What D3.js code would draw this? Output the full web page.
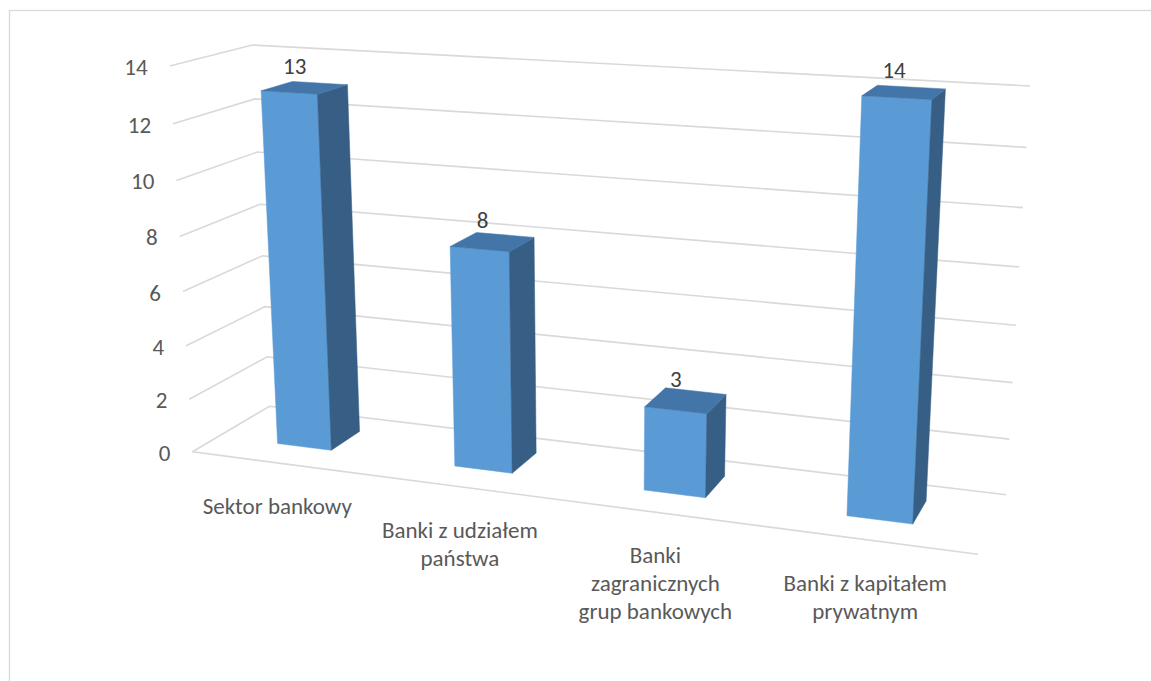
<!DOCTYPE html>
<html>
<head>
<meta charset="utf-8">
<script src="https://cdn.jsdelivr.net/npm/d3@7"></script>
<style>
  html, body { margin: 0; padding: 0; background: #fff; }
  svg { display: block; }
  text { font-family: Carlito, Lato, "Open Sans", sans-serif; }
</style>
</head>
<body>
<svg id="chart" width="1151" height="681"></svg>
<script>
// ---------------- DATA ----------------
const categories = ["Sektor bankowy", "Banki z udziałem państwa", "Banki zagranicznych grup bankowych", "Banki z kapitałem prywatnym"];
const categoryLines = [["Sektor bankowy"], ["Banki z udziałem", "państwa"], ["Banki", "zagranicznych", "grup bankowych"], ["Banki z kapitałem", "prywatnym"]];
const values = [13, 8, 3, 14];
const yTicks = [0, 2, 4, 6, 8, 10, 12, 14];
const yMax = 14;

// ---------------- LAYOUT ----------------
const svg = d3.select("#chart");

// camera anchors: world box corners (x 0..1, y 0..1, z 0..1 front->back) -> screen
const anchors = [
  [[0, 1, 0], [170, 66]],
  [[0, 1, 1], [252, 45]],
  [[0, 0, 0], [192, 452]],
  [[0, 0, 1], [270, 406]],
  [[1, 1, 1], [1030, 86]],
  [[1, 0, 1], [1006, 495]],
  [[1, 0, 0], [978, 554]]
];

// Fit a 3x4 perspective camera matrix (DLT, p34 = 1) by least squares
function fitCamera(pts) {
  const A = [], b = [];
  pts.forEach(([[X, Y, Z], [u, v]]) => {
    A.push([X, Y, Z, 1, 0, 0, 0, 0, -u * X, -u * Y, -u * Z]); b.push(u);
    A.push([0, 0, 0, 0, X, Y, Z, 1, -v * X, -v * Y, -v * Z]); b.push(v);
  });
  const n = 11;
  const M = Array.from({length: n}, () => new Array(n + 1).fill(0));
  for (let r = 0; r < A.length; r++) {
    for (let i = 0; i < n; i++) {
      for (let j = 0; j < n; j++) M[i][j] += A[r][i] * A[r][j];
      M[i][n] += A[r][i] * b[r];
    }
  }
  for (let c = 0; c < n; c++) {
    let p = c;
    for (let r = c + 1; r < n; r++) if (Math.abs(M[r][c]) > Math.abs(M[p][c])) p = r;
    [M[c], M[p]] = [M[p], M[c]];
    for (let r = 0; r < n; r++) {
      if (r === c) continue;
      const f = M[r][c] / M[c][c];
      for (let k = c; k <= n; k++) M[r][k] -= f * M[c][k];
    }
  }
  return M.map((row, i) => row[n] / row[i]);
}
const P = fitCamera(anchors);
function project([X, Y, Z]) {
  const w = P[8] * X + P[9] * Y + P[10] * Z + 1;
  return [(P[0] * X + P[1] * Y + P[2] * Z + P[3]) / w,
          (P[4] * X + P[5] * Y + P[6] * Z + P[7]) / w];
}

// scales (world units)
const x = d3.scaleBand().domain(categories).range([0, 1]).paddingInner(0.69).paddingOuter(0.345);
const y = d3.scaleLinear().domain([0, yMax]).range([0, 1]);
const zBar = [0.33, 0.73];
const zMid = (zBar[0] + zBar[1]) / 2;

const gridColor = "#D9D9D9";
const textColor = "#595959";
const fontSize = 23;
const line = d3.line();

// chart area border
svg.append("rect").attr("x", 9.5).attr("y", 10.5).attr("width", 1300).attr("height", 800)
  .attr("fill", "none").attr("stroke", gridColor).attr("stroke-width", 1.3);

// gridlines on side wall and back wall
const grid = svg.append("g").attr("fill", "none").attr("stroke", gridColor).attr("stroke-width", 1.6);
yTicks.forEach(t => {
  grid.append("path").attr("d", line([project([0, y(t), 0]), project([0, y(t), 1]), project([1, y(t), 1])]));
});
// floor front edge
grid.append("path").attr("d", line([project([0, 0, 0]), project([1, 0, 0])]));

// y tick labels
svg.append("g").selectAll("text").data(yTicks).join("text")
  .attr("x", d => project([0, y(d), 0])[0] - 22)
  .attr("y", d => project([0, y(d), 0])[1] + 1)
  .attr("text-anchor", "end").attr("dominant-baseline", "central")
  .attr("font-size", fontSize).attr("fill", textColor)
  .text(d => d);

// bars
function boxFaces(x0, x1, y0, y1, z0, z1) {
  return [
    {v: [[x0,y0,z0],[x0,y1,z0],[x1,y1,z0],[x1,y0,z0]], fill: "#5B9BD5"},
    {v: [[x0,y0,z1],[x1,y0,z1],[x1,y1,z1],[x0,y1,z1]], fill: "#3E6A97"},
    {v: [[x0,y0,z0],[x0,y0,z1],[x0,y1,z1],[x0,y1,z0]], fill: "#375F86"},
    {v: [[x1,y0,z0],[x1,y1,z0],[x1,y1,z1],[x1,y0,z1]], fill: "#375F86"},
    {v: [[x0,y0,z0],[x1,y0,z0],[x1,y0,z1],[x0,y0,z1]], fill: "#3E6A97"},
    {v: [[x0,y1,z0],[x0,y1,z1],[x1,y1,z1],[x1,y1,z0]], fill: "#4475A8"}
  ];
}
function area(pts) {
  let s = 0;
  for (let i = 0; i < pts.length; i++) {
    const a = pts[i], b = pts[(i + 1) % pts.length];
    s += a[0] * b[1] - b[0] * a[1];
  }
  return s / 2;
}
const barG = svg.append("g");
categories.forEach((c, i) => {
  const faces = boxFaces(x(c), x(c) + x.bandwidth(), y(0), y(values[i]), zBar[0], zBar[1])
    .map(f => ({...f, p: f.v.map(project)}));
  const ref = Math.sign(area(faces[0].p));
  const g = barG.append("g");
  faces.filter(f => Math.sign(area(f.p)) === ref).forEach(f => {
    g.append("path").attr("d", line(f.p) + "Z").attr("fill", f.fill)
      .attr("stroke", f.fill).attr("stroke-width", 0.5).attr("stroke-linejoin", "round");
  });
});

// data labels
svg.append("g").selectAll("text").data(categories).join("text")
  .attr("x", (c, i) => project([x(c) + x.bandwidth() / 2, y(values[i]), zMid])[0] - 10)
  .attr("y", (c, i) => project([x(c) + x.bandwidth() / 2, y(values[i]), zMid])[1] - 22)
  .attr("text-anchor", "middle").attr("dominant-baseline", "central")
  .attr("font-size", fontSize).attr("fill", "#404040")
  .text((c, i) => values[i]);

// category labels (wrapped lines)
const lineH = 28;
const catG = svg.append("g");
categories.forEach((c, i) => {
  const [px, py] = project([x(c) + x.bandwidth() / 2, 0, 0]);
  const t = catG.append("text").attr("text-anchor", "middle").attr("dominant-baseline", "central")
    .attr("font-size", fontSize).attr("fill", textColor);
  categoryLines[i].forEach((l, k) => {
    t.append("tspan").attr("x", px - 2).attr("y", py + 43 + k * lineH).text(l);
  });
});
</script>
</body>
</html>
